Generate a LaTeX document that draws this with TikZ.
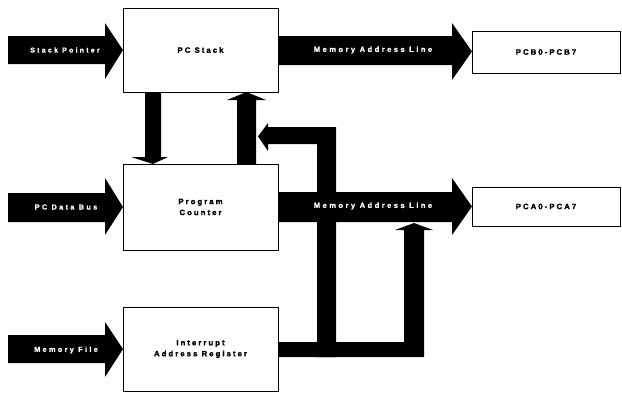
\documentclass[tikz,border=0pt]{standalone}
\usepackage{fontspec}
\setmainfont{Liberation Sans}
\newfontfamily\arrowfont[LetterSpace=32, FakeBold=0.6]{Liberation Sans Bold}
\newfontfamily\boxfont[LetterSpace=26, FakeBold=1.4]{Liberation Sans Bold}
\begin{document}
\begin{tikzpicture}[x=1pt,y=-1pt,
  block/.style={draw=black, line width=0.8pt, fill=white, inner sep=0pt,
    align=center, font=\boxfont\fontsize{7.8}{11}\selectfont},
  buslabel/.style={text=white, inner sep=0pt, align=center,
    font=\arrowfont\fontsize{#1}{9}\selectfont},
  buslabel/.default=7.6,
  bus/.style={fill=black}]
\useasboundingbox (0,0) rectangle (622,392);

% ---- wide arrows ----
% Stack Pointer -> PC Stack
\fill[bus] (8,36) -- (105,36) -- (105,23) -- (123,50) -- (105,79) -- (105,64) -- (8,64) -- cycle;
% PC Data Bus -> Program Counter
\fill[bus] (8,193) -- (105,193) -- (105,178) -- (123,207) -- (105,235) -- (105,222) -- (8,222) -- cycle;
% Memory File -> Interrupt Address Register
\fill[bus] (8,335) -- (105,335) -- (105,322) -- (123,349) -- (105,377) -- (105,363) -- (8,363) -- cycle;
% PC Stack -> PCB0-PCB7
\fill[bus] (278,36) -- (452,36) -- (452,23) -- (472,51.5) -- (452,80) -- (452,65) -- (278,65) -- cycle;
% Program Counter -> PCA0-PCA7
\fill[bus] (278,192) -- (452,192) -- (452,178) -- (472,206.5) -- (452,235) -- (452,222) -- (278,222) -- cycle;
% PC Stack -> Program Counter
\fill[bus] (145,92) -- (161,92) -- (161,157) -- (168,157) -- (153,164) -- (131,157) -- (145,157) -- cycle;
% Program Counter -> PC Stack
\fill[bus] (237,164) -- (237,100) -- (227,100) -- (246.5,92) -- (266,100) -- (256,100) -- (256,164) -- cycle;
% Interrupt Address Register bus, both branches
\fill[bus] (278,342) -- (404,342) -- (404,230) -- (395,230) -- (414,223) -- (433,230) -- (424,230)
  -- (424,357) -- (278,357) -- cycle;
\fill[bus] (317,357) -- (317,144) -- (268,144) -- (268,151) -- (258,136.5) -- (268,123) -- (268,127)
  -- (336,127) -- (336,357) -- cycle;

% ---- blocks ----
\node[block, minimum width=155pt, minimum height=84pt] (stack) at (200.5,50) {PC Stack};
\node[block, minimum width=155pt, minimum height=86pt] (pc) at (200.5,207) {Program\\Counter};
\node[block, minimum width=155pt, minimum height=84pt] (iar) at (200.5,349) {Interrupt\\Address Register};
\node[block, minimum width=148pt, minimum height=42pt] (pcb) at (546,52) {PCB0-PCB7};
\node[block, minimum width=148pt, minimum height=39pt] (pca) at (546,206.5) {PCA0-PCA7};

% ---- labels on the wide arrows ----
\node[buslabel=7.0] (lsp) at (65,50) {Stack Pointer};
\node[buslabel=7.3] (lpd) at (66,207) {PC Data Bus};
\node[buslabel=7.3] (lmf) at (66,350) {Memory File};
\node[buslabel] (lm1) at (373,50) {Memory Address Line};
\node[buslabel] (lm2) at (373,206) {Memory Address Line};
\end{tikzpicture}
\end{document}
